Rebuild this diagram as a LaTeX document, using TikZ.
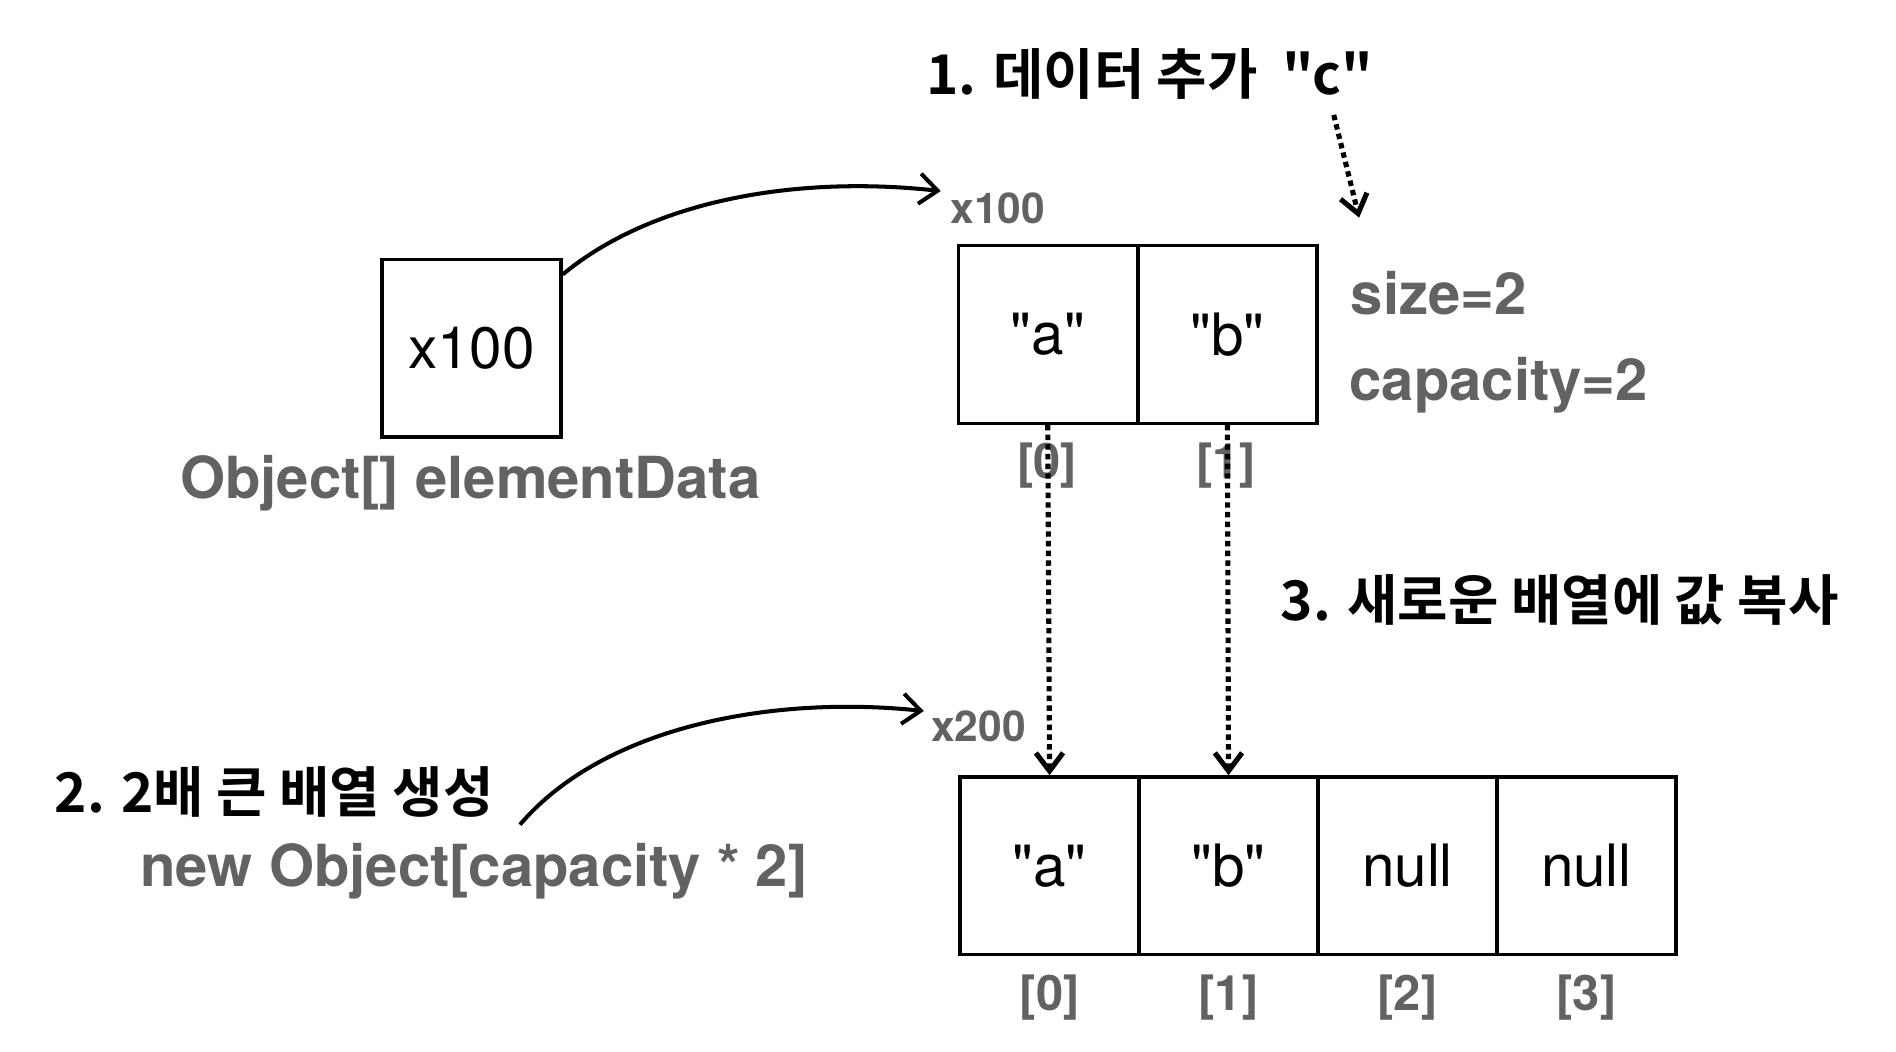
\documentclass[tikz,border=0pt]{standalone}
\usepackage{fontspec}
\setmainfont{TeX Gyre Heros}[Ligatures=TeXOff]
\newfontfamily\kofont{Noto Sans CJK KR}[BoldFont={Noto Sans CJK KR Bold}]
\usetikzlibrary{arrows.meta}
\definecolor{labelgray}{HTML}{626262}
\tikzset{
    cell/.style={draw, line width=1.6pt, inner sep=0pt, minimum width=2.96cm, minimum height=2.94cm, font=\fontsize{27.5}{32}\selectfont},
    idx/.style={text=labelgray, font=\bfseries\fontsize{23}{28}\selectfont},
    info/.style={text=labelgray, anchor=base west, font=\bfseries\fontsize{27.3}{32}\selectfont},
    addr/.style={text=labelgray, anchor=west, font=\bfseries\fontsize{20}{24}\selectfont},
    stepnote/.style={anchor=west, font=\kofont\bfseries\fontsize{25.8}{30}\selectfont},
    refarrow/.style={line width=1.9pt, -{Straight Barb[length=0.3cm, width=0.5cm]}},
    copyarrow/.style={line width=2.4pt, dash pattern=on 0.09cm off 0.07cm, -{Straight Barb[length=0.3cm, width=0.45cm]}}
}
\begin{document}
\begin{tikzpicture}[x=0.02cm, y=-0.02cm]
    \useasboundingbox (0,0) rectangle (1568,870);

    % Reference variable
    \node[cell] (ref) at (390,288) {x100};
    \node[info, anchor=base] (refname) at (389,412) {Object[] elementData};

    % Old array of size 2
    \node[cell] (olda) at (866.5,276.5) {"a"};
    \node[cell] (oldb) at (1015,276.5) {"b"};
    \node[idx] (oldi0) at (866,385) {[0]};
    \node[idx] (oldi1) at (1014,385) {[1]};
    \node[addr] (oldaddr) at (780,172) {x100};
    \node[info] (size) at (1111,260) {size=2};
    \node[info] (cap) at (1110,331) {capacity=2};

    % New array of size 4
    \foreach \val [count=\i from 0] in {"a", "b", null, null} {
        \node[cell] (new\i) at (868+148*\i,716) {\val};
        \node[idx] (newi\i) at (868+148*\i,825) {[\i]};
    }
    \node[addr] (newaddr) at (764,601) {x200};

    % Step notes
    \node[stepnote] (step1) at (760,61) {1. 데이터 추가\ \ "c"};
    \node[stepnote] (step2) at (39,655) {2. 2배 큰 배열 생성};
    \node[stepnote] (step3) at (1053,496) {3. 새로운 배열에 값 복사};
    \node[info] (newexpr) at (110,733) {new Object[capacity * 2]};

    % Arrows
    \coordinate (oldtip) at (778,158);
    \coordinate (newfrom) at (430,682);
    \coordinate (newtip) at (764,588);
    \coordinate (addfrom) at (1103,95);
    \coordinate (addto) at (1124,180);
    \draw[refarrow] (ref.39) .. controls (540,165) and (660,145) .. (oldtip);
    \draw[refarrow] (newfrom) .. controls (500,600) and (640,575) .. (newtip);
    \draw[copyarrow] (addfrom) -- (addto);
    \draw[copyarrow] (olda.south) -- (new0.north);
    \draw[copyarrow] (oldb.south) -- (new1.north);
\end{tikzpicture}
\end{document}
